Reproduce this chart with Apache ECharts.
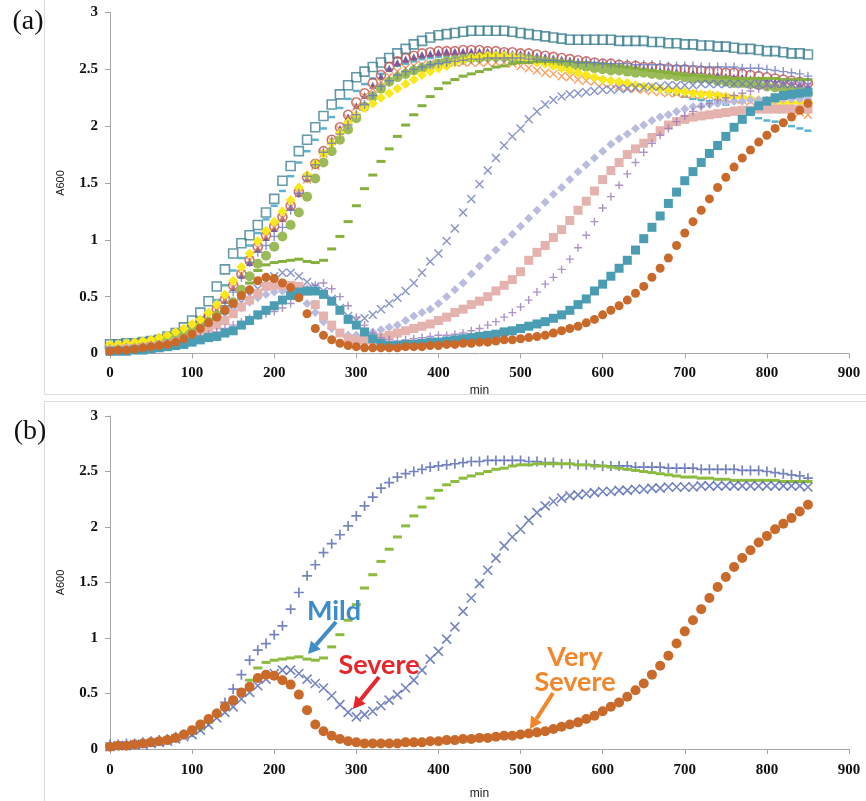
<!DOCTYPE html>
<html>
<head>
<meta charset="utf-8">
<script src="https://cdn.jsdelivr.net/npm/echarts@6/dist/echarts.min.js"></script>
<style>html,body{margin:0;padding:0;background:#fff;}#c{width:866px;height:801px;}</style>
</head>
<body>
<div id="c"></div>
<script>
// time axis (min)
const T = [0,10,20,30,40,50,60,70,80,90,
100,110,120,130,140,150,160,170,180,190,
200,210,220,230,240,250,260,270,280,290,
300,310,320,330,340,350,360,370,380,390,
400,410,420,430,440,450,460,470,480,490,
500,510,520,530,540,550,560,570,580,590,
600,610,620,630,640,650,660,670,680,690,
700,710,720,730,740,750,760,770,780,790,
800,810,820,830,840,850];
const xTicks = [0,100,200,300,400,500,600,700,800,900];
const yTicks = [0,0.5,1,1.5,2,2.5,3];

// strains shown in both panels
const bluePlus = [0.04,0.04,0.05,0.05,0.06,0.07,0.08,0.09,0.11,0.13,
0.15,0.20,0.25,0.32,0.42,0.54,0.67,0.80,0.89,0.95,
1.03,1.11,1.26,1.41,1.56,1.66,1.77,1.85,1.93,2.01,
2.10,2.19,2.27,2.35,2.40,2.45,2.48,2.50,2.52,2.54,
2.55,2.56,2.57,2.58,2.59,2.59,2.60,2.60,2.60,2.60,
2.60,2.59,2.59,2.58,2.58,2.57,2.57,2.56,2.56,2.56,
2.55,2.55,2.55,2.55,2.54,2.54,2.54,2.54,2.53,2.53,
2.53,2.53,2.52,2.52,2.52,2.52,2.52,2.51,2.51,2.51,
2.50,2.49,2.48,2.47,2.46,2.44];
const greenDash = [0.03,0.03,0.04,0.05,0.05,0.06,0.07,0.08,0.10,0.12,
0.14,0.18,0.24,0.30,0.36,0.43,0.52,0.62,0.73,0.78,
0.80,0.81,0.82,0.83,0.81,0.80,0.82,0.92,1.03,1.16,
1.30,1.45,1.57,1.69,1.80,1.91,2.01,2.10,2.18,2.26,
2.33,2.38,2.41,2.44,2.46,2.48,2.50,2.52,2.53,2.55,
2.56,2.56,2.57,2.57,2.57,2.57,2.57,2.56,2.56,2.55,
2.55,2.54,2.53,2.52,2.51,2.50,2.49,2.48,2.47,2.46,
2.45,2.45,2.44,2.44,2.43,2.43,2.42,2.42,2.42,2.42,
2.42,2.42,2.41,2.41,2.41,2.41];
const blueX = [0.02,0.03,0.03,0.04,0.04,0.05,0.06,0.07,0.09,0.11,
0.13,0.17,0.22,0.28,0.33,0.38,0.45,0.51,0.57,0.63,
0.68,0.71,0.71,0.68,0.63,0.59,0.55,0.48,0.40,0.33,
0.29,0.31,0.34,0.39,0.44,0.49,0.55,0.62,0.71,0.81,
0.88,0.99,1.10,1.24,1.36,1.49,1.61,1.72,1.83,1.91,
1.98,2.06,2.13,2.19,2.23,2.26,2.28,2.29,2.30,2.31,
2.32,2.32,2.33,2.33,2.34,2.34,2.35,2.35,2.36,2.36,
2.36,2.36,2.37,2.37,2.37,2.37,2.37,2.37,2.37,2.37,
2.37,2.37,2.37,2.37,2.37,2.36];
const orangeCircle = [0.02,0.03,0.03,0.04,0.05,0.06,0.07,0.08,0.10,0.13,
0.17,0.22,0.27,0.32,0.38,0.44,0.51,0.56,0.64,0.67,
0.66,0.62,0.58,0.49,0.35,0.22,0.16,0.12,0.09,0.07,
0.06,0.05,0.05,0.05,0.05,0.05,0.06,0.06,0.06,0.07,
0.07,0.08,0.08,0.09,0.09,0.10,0.10,0.11,0.12,0.12,
0.13,0.14,0.15,0.16,0.18,0.20,0.22,0.24,0.27,0.30,
0.34,0.38,0.42,0.47,0.53,0.59,0.67,0.75,0.84,0.95,
1.06,1.16,1.26,1.36,1.46,1.55,1.64,1.72,1.79,1.86,
1.92,1.98,2.03,2.08,2.14,2.20];

// strains shown only in panel (a)
const openSquare = [0.08,0.08,0.09,0.09,0.10,0.11,0.12,0.15,0.18,0.23,
0.29,0.36,0.46,0.59,0.74,0.88,0.97,1.04,1.13,1.24,
1.36,1.52,1.65,1.78,1.88,1.99,2.09,2.19,2.28,2.36,
2.43,2.48,2.52,2.56,2.60,2.64,2.68,2.72,2.75,2.78,
2.80,2.81,2.82,2.83,2.84,2.84,2.84,2.84,2.84,2.83,
2.82,2.81,2.80,2.79,2.78,2.77,2.76,2.76,2.76,2.76,
2.76,2.76,2.75,2.75,2.75,2.75,2.74,2.74,2.73,2.73,
2.72,2.72,2.71,2.71,2.70,2.70,2.69,2.68,2.68,2.67,
2.66,2.66,2.65,2.64,2.64,2.63];
const lightDash = [0.06,0.06,0.07,0.08,0.08,0.09,0.10,0.12,0.14,0.17,
0.21,0.27,0.36,0.47,0.60,0.73,0.84,0.95,1.06,1.18,
1.30,1.43,1.56,1.68,1.78,1.88,1.98,2.08,2.16,2.24,
2.31,2.37,2.42,2.46,2.50,2.53,2.55,2.57,2.59,2.60,
2.61,2.62,2.62,2.63,2.63,2.63,2.63,2.62,2.62,2.61,
2.60,2.58,2.56,2.54,2.52,2.50,2.48,2.46,2.45,2.43,
2.42,2.40,2.39,2.38,2.37,2.36,2.34,2.32,2.30,2.28,
2.26,2.24,2.23,2.22,2.21,2.19,2.16,2.13,2.10,2.07,
2.05,2.04,2.02,2.00,1.98,1.96];
const redCircle = [0.06,0.06,0.07,0.08,0.09,0.10,0.12,0.14,0.17,0.20,
0.24,0.28,0.33,0.39,0.48,0.60,0.70,0.82,0.94,1.04,
1.12,1.20,1.30,1.42,1.55,1.67,1.78,1.88,1.99,2.10,
2.21,2.29,2.38,2.45,2.52,2.57,2.60,2.62,2.64,2.65,
2.66,2.66,2.66,2.67,2.67,2.67,2.66,2.66,2.65,2.65,
2.64,2.64,2.63,2.62,2.61,2.60,2.59,2.58,2.57,2.56,
2.55,2.55,2.54,2.53,2.53,2.52,2.52,2.51,2.51,2.50,
2.50,2.49,2.49,2.48,2.48,2.47,2.47,2.46,2.45,2.44,
2.43,2.42,2.41,2.40,2.39,2.38];
const purpleTri = [0.06,0.06,0.07,0.08,0.09,0.10,0.11,0.13,0.16,0.19,
0.23,0.27,0.32,0.38,0.47,0.58,0.69,0.80,0.92,1.02,
1.10,1.19,1.29,1.41,1.54,1.66,1.77,1.88,1.98,2.08,
2.18,2.27,2.36,2.44,2.51,2.56,2.59,2.61,2.63,2.64,
2.65,2.66,2.66,2.66,2.66,2.66,2.66,2.65,2.65,2.64,
2.64,2.63,2.62,2.61,2.60,2.59,2.58,2.57,2.56,2.55,
2.55,2.54,2.53,2.52,2.52,2.51,2.50,2.49,2.49,2.48,
2.47,2.47,2.46,2.45,2.45,2.44,2.43,2.43,2.42,2.41,
2.40,2.39,2.38,2.37,2.36,2.35];
const orangeX = [0.06,0.06,0.07,0.08,0.09,0.10,0.12,0.14,0.16,0.19,
0.23,0.27,0.32,0.38,0.47,0.58,0.70,0.82,0.93,1.03,
1.11,1.19,1.29,1.41,1.53,1.65,1.76,1.87,1.97,2.07,
2.17,2.26,2.33,2.39,2.44,2.48,2.51,2.53,2.54,2.55,
2.56,2.56,2.56,2.56,2.56,2.56,2.56,2.56,2.56,2.55,
2.53,2.51,2.49,2.47,2.46,2.44,2.43,2.41,2.40,2.39,
2.38,2.37,2.35,2.34,2.33,2.32,2.31,2.30,2.29,2.29,
2.28,2.28,2.27,2.27,2.26,2.25,2.24,2.23,2.22,2.21,
2.20,2.18,2.16,2.14,2.12,2.10];
const yellowDiamond = [0.08,0.08,0.09,0.10,0.11,0.12,0.14,0.16,0.19,0.22,
0.26,0.30,0.36,0.43,0.52,0.64,0.76,0.88,0.99,1.08,
1.16,1.25,1.35,1.46,1.57,1.67,1.76,1.85,1.94,2.03,
2.10,2.16,2.20,2.25,2.29,2.33,2.37,2.41,2.45,2.48,
2.51,2.53,2.56,2.58,2.60,2.61,2.62,2.62,2.62,2.61,
2.60,2.58,2.56,2.55,2.53,2.51,2.49,2.47,2.45,2.43,
2.41,2.40,2.39,2.38,2.36,2.35,2.34,2.33,2.32,2.31,
2.30,2.29,2.28,2.28,2.27,2.26,2.25,2.25,2.24,2.23,
2.22,2.22,2.21,2.21,2.21,2.21];
const greenCircle = [0.05,0.05,0.06,0.07,0.08,0.09,0.10,0.12,0.14,0.17,
0.20,0.24,0.28,0.33,0.38,0.45,0.56,0.68,0.79,0.86,
0.94,1.03,1.13,1.24,1.38,1.54,1.68,1.78,1.88,1.97,
2.07,2.17,2.26,2.33,2.39,2.43,2.46,2.49,2.51,2.53,
2.55,2.57,2.58,2.59,2.60,2.60,2.61,2.61,2.61,2.60,
2.60,2.59,2.58,2.57,2.56,2.55,2.54,2.53,2.52,2.51,
2.50,2.49,2.49,2.48,2.47,2.47,2.46,2.45,2.45,2.44,
2.43,2.42,2.42,2.41,2.40,2.39,2.38,2.38,2.37,2.36,
2.35,2.34,2.33,2.32,2.30,2.29];
const lavenderDiamond = [0.03,0.03,0.04,0.04,0.05,0.06,0.07,0.08,0.10,0.12,
0.14,0.17,0.21,0.25,0.30,0.35,0.40,0.45,0.49,0.52,
0.54,0.55,0.54,0.50,0.44,0.36,0.28,0.22,0.18,0.16,
0.16,0.17,0.19,0.21,0.23,0.25,0.29,0.33,0.36,0.39,
0.44,0.50,0.56,0.62,0.70,0.77,0.84,0.91,0.98,1.05,
1.12,1.19,1.26,1.33,1.40,1.46,1.53,1.60,1.66,1.72,
1.78,1.84,1.89,1.93,1.98,2.01,2.05,2.08,2.10,2.13,
2.15,2.17,2.18,2.19,2.20,2.21,2.22,2.22,2.23,2.23,
2.23,2.23,2.24,2.24,2.24,2.24];
const pinkSquare = [0.03,0.03,0.04,0.04,0.05,0.06,0.07,0.08,0.10,0.12,
0.14,0.17,0.20,0.25,0.29,0.35,0.41,0.47,0.53,0.59,
0.60,0.60,0.60,0.59,0.55,0.43,0.33,0.25,0.18,0.13,
0.12,0.12,0.12,0.14,0.16,0.18,0.20,0.22,0.24,0.26,
0.29,0.32,0.36,0.39,0.43,0.46,0.50,0.55,0.60,0.65,
0.72,0.82,0.89,0.95,1.02,1.09,1.17,1.26,1.34,1.43,
1.53,1.61,1.68,1.75,1.80,1.85,1.90,1.96,2.01,2.04,
2.06,2.08,2.09,2.10,2.11,2.12,2.13,2.14,2.14,2.15,
2.15,2.15,2.15,2.15,2.15,2.15];
const purplePlus = [0.02,0.02,0.03,0.03,0.04,0.05,0.06,0.07,0.09,0.11,
0.13,0.15,0.17,0.19,0.22,0.25,0.28,0.31,0.33,0.35,
0.37,0.40,0.44,0.50,0.57,0.60,0.62,0.57,0.50,0.42,
0.32,0.25,0.18,0.14,0.12,0.11,0.12,0.13,0.14,0.15,
0.16,0.16,0.17,0.18,0.20,0.22,0.25,0.28,0.32,0.36,
0.41,0.47,0.54,0.61,0.67,0.74,0.83,0.93,1.04,1.16,
1.28,1.38,1.48,1.58,1.68,1.77,1.85,1.92,1.98,2.04,
2.09,2.13,2.17,2.20,2.23,2.25,2.27,2.29,2.31,2.33,
2.35,2.36,2.37,2.37,2.37,2.37];
const tealSquare = [0.02,0.02,0.02,0.03,0.03,0.04,0.05,0.06,0.07,0.08,
0.10,0.12,0.14,0.15,0.18,0.20,0.25,0.29,0.34,0.38,
0.42,0.47,0.51,0.54,0.55,0.55,0.52,0.46,0.38,0.30,
0.25,0.19,0.13,0.09,0.07,0.07,0.08,0.08,0.09,0.10,
0.10,0.11,0.12,0.13,0.14,0.15,0.16,0.17,0.19,0.20,
0.22,0.24,0.26,0.28,0.31,0.34,0.38,0.43,0.48,0.55,
0.61,0.68,0.75,0.82,0.91,1.01,1.11,1.21,1.32,1.42,
1.52,1.60,1.68,1.76,1.83,1.91,1.99,2.06,2.13,2.18,
2.22,2.25,2.27,2.28,2.29,2.30];

const PLUS = 'path://M5,0L5,10M0,5L10,5';
const CROSS = 'path://M0,0L10,10M10,0L0,10';

function pts(v){ return T.map((t,i)=>[t, v[i]]); }
function sc(v, g, symbol, size, color, mode, bw){
  let itemStyle;
  if (mode === 'hollow') itemStyle = {color:'rgba(0,0,0,0)', borderColor:color, borderWidth:bw || 1.6};
  else if (mode === 'stroke') itemStyle = {color:'rgba(0,0,0,0)', borderColor:color, borderWidth:bw || 1.4};
  else itemStyle = {color:color, opacity:1};
  return {type:'scatter', xAxisIndex:g, yAxisIndex:g, data:pts(v), symbol:symbol, symbolSize:size,
          itemStyle:itemStyle, silent:true, clip:false, animation:false};
}

const axisLineStyle = {color:'#a6a6a6', width:1};
function xAx(g, margin, nameGap){
  return {type:'value', gridIndex:g, min:0, max:900, interval:100,
    axisLine:{show:true, onZero:false, lineStyle:axisLineStyle},
    axisTick:{show:true, length:5, lineStyle:axisLineStyle},
    splitLine:{show:false},
    axisLabel:{color:'#111', fontFamily:'Liberation Serif', fontWeight:'bold', fontSize:15, margin:margin,
      formatter:(v)=> xTicks.includes(v) ? String(v) : ''},
    name:'min', nameLocation:'middle', nameGap:nameGap,
    nameTextStyle:{color:'#222', fontFamily:'Liberation Sans Narrow, Liberation Sans', fontSize:12}};
}
function yAx(g){
  return {type:'value', gridIndex:g, min:0, max:3, interval:0.5,
    axisLine:{show:true, lineStyle:axisLineStyle},
    axisTick:{show:true, length:5, lineStyle:axisLineStyle},
    splitLine:{show:false},
    axisLabel:{color:'#111', fontFamily:'Liberation Serif', fontWeight:'bold', fontSize:15, margin:12,
      formatter:(v)=> yTicks.includes(v) ? String(v) : ''},
    name:'A600', nameLocation:'middle', nameGap:44, nameRotate:90,
    nameTextStyle:{color:'#222', fontFamily:'Liberation Sans', fontSize:11}};
}

function arrow(x1,y1,x2,y2,color,w){
  const dx=x2-x1, dy=y2-y1, L=Math.sqrt(dx*dx+dy*dy), ux=dx/L, uy=dy/L;
  const hl=12, hw=6.5;
  const bx=x2-ux*hl, by=y2-uy*hl, px=-uy, py=ux;
  return [
    {type:'line', shape:{x1:x1,y1:y1,x2:bx,y2:by}, style:{stroke:color, lineWidth:w}, z:100},
    {type:'polygon', shape:{points:[[x2,y2],[bx+px*hw,by+py*hw],[bx-px*hw,by-py*hw]]}, style:{fill:color}, z:100}
  ];
}
const annFont = 'Lato, "Open Sans", sans-serif';
function txt(x,y,s,color){
  return {type:'text', x:x, y:y, style:{text:s, fill:color, font:'bold 27px ' + annFont, align:'center', verticalAlign:'middle'}, z:100};
}

const chart = echarts.init(document.getElementById('c'), null, {renderer:'canvas'});
chart.setOption({
  backgroundColor:'#ffffff',
  animation:false,
  grid:[
    {left:110, top:12.5, width:739, height:341},
    {left:110, top:416, width:739, height:341}
  ],
  xAxis:[xAx(0, 12, 31), xAx(1, 14, 39)],
  yAxis:[yAx(0), yAx(1)],
  series:[
    sc(openSquare, 0, 'rect', 9, '#3f8193', 'hollow'),
    sc(lightDash, 0, 'rect', [7,2.5], '#5cb2cf'),
    sc(redCircle, 0, 'circle', 9, '#c0504d', 'hollow'),
    sc(purpleTri, 0, 'triangle', 7, '#7a5a9e'),
    sc(orangeX, 0, CROSS, 8, '#f58a3c', 'stroke'),
    sc(greenCircle, 0, 'circle', 10, '#9bbb59'),
    sc(yellowDiamond, 0, 'diamond', 10, '#f9e81a'),
    sc(greenDash, 0, 'rect', [9,3], '#86b03c'),
    sc(bluePlus, 0, PLUS, 9, '#6a78bb', 'stroke'),
    sc(blueX, 0, CROSS, 8, '#6a78bb', 'stroke'),
    sc(lavenderDiamond, 0, 'diamond', 9, '#b9bbdf'),
    sc(pinkSquare, 0, 'rect', 9, '#e5b3ae'),
    sc(purplePlus, 0, PLUS, 8, '#9a78b8', 'stroke'),
    sc(tealSquare, 0, 'rect', 9, '#4a9db3'),
    sc(orangeCircle, 0, 'circle', 9, '#c9692a'),

    sc(bluePlus, 1, PLUS, 10, '#5365b0', 'stroke', 1.7),
    sc(greenDash, 1, 'rect', [9,3], '#8cbb3e'),
    sc(blueX, 1, CROSS, 9, '#5365b0', 'stroke', 1.6),
    sc(orangeCircle, 1, 'circle', 10, '#c9692a')
  ],
  graphic:[
    {type:'rect', shape:{x:44.5, y:-5, width:840, height:399.5}, style:{fill:'none', stroke:'#dcdcdc', lineWidth:1}, z:-1, silent:true},
    {type:'rect', shape:{x:44.5, y:401.5, width:840, height:410}, style:{fill:'none', stroke:'#dcdcdc', lineWidth:1}, z:-1, silent:true},
    {type:'text', x:28, y:22, style:{text:'(a)', fill:'#111', font:'28px "Liberation Serif", serif', align:'center', verticalAlign:'middle'}},
    {type:'text', x:30, y:432, style:{text:'(b)', fill:'#111', font:'28px "Liberation Serif", serif', align:'center', verticalAlign:'middle'}},
    txt(334, 611, 'Mild', '#3d8bc9'),
    txt(379, 665, 'Severe', '#e5262b'),
    txt(575, 657, 'Very', '#f2862c'),
    txt(575, 682, 'Severe', '#f2862c'),
    ...arrow(336, 622, 308, 654, '#3d8bc9', 4),
    ...arrow(379, 677, 353, 709, '#e5262b', 4),
    ...arrow(553, 693, 530, 729, '#f2862c', 4)
  ]
});
</script>
</body>
</html>
